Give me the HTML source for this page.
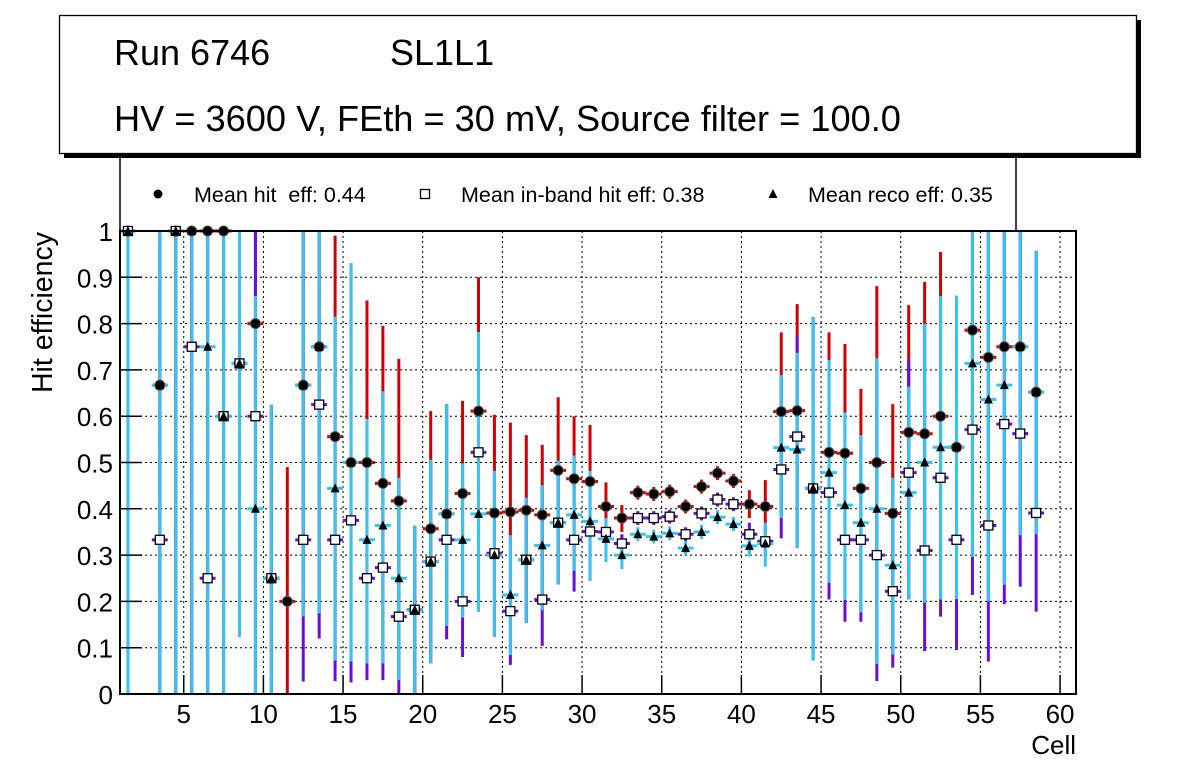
<!DOCTYPE html>
<html><head><meta charset="utf-8"><style>
html,body{margin:0;padding:0;background:#fff;}
svg{display:block;font-family:"Liberation Sans",sans-serif;}
</style></head><body>
<svg id="chart" width="1196" height="772" viewBox="0 0 1196 772">
  <rect x="0" y="0" width="1196" height="772" fill="#fff"/>
  <g id="grid"></g>
  <g id="bars"></g>
  <g id="marks"></g>
  <rect x="120" y="231" width="956" height="463" fill="none" stroke="#000" stroke-width="2"/>
  <g id="axes"></g>
  <text x="1076" y="754" font-size="26" text-anchor="end">Cell</text>
  <text transform="translate(52,232) rotate(-90)" font-size="28.5" text-anchor="end">Hit efficiency</text>
  <g>
    <path d="M120 155 V231 M1016 155 V231" stroke="#000" stroke-width="1.5" fill="none"/>
    <circle cx="158" cy="194" r="4.5" fill="#000"/>
    <text x="194" y="202" font-size="21.5">Mean hit&#160; eff: 0.44</text>
    <rect x="420.5" y="189.5" width="9" height="9" fill="#fff" stroke="#000" stroke-width="1.3"/>
    <text x="461" y="202" font-size="21.5">Mean in-band hit eff: 0.38</text>
    <path d="M773 189 L777.5 198 L768.5 198 Z" fill="#000"/>
    <text x="808" y="202" font-size="21.5">Mean reco eff: 0.35</text>
  </g>
  <g>
    <rect x="64" y="20" width="1077" height="138" fill="#000"/>
    <rect x="59.5" y="15.5" width="1077" height="138" fill="#fff" stroke="#000" stroke-width="1.3"/>
    <text x="114" y="65" font-size="36">Run 6746</text>
    <text x="390" y="65" font-size="36">SL1L1</text>
    <text x="114" y="131" font-size="36.2">HV = 3600 V, FEth = 30 mV, Source filter = 100.0</text>
  </g>
</svg>
<script>
const cells = [1,3,4,5,6,7,8,9,10,11,12,13,14,15,16,17,18,19,20,21,22,23,24,25,26,27,28,29,30,31,32,33,34,35,36,37,38,39,40,41,42,43,44,45,46,47,48,49,50,51,52,53,54,55,56,57,58];
const hitEff = [1,.667,1,1,1,1,.714,.8,.25,.2,.667,.75,.556,.5,.5,.455,.417,.182,.357,.389,.433,.611,.391,.393,.397,.387,.483,.465,.459,.405,.38,.435,.432,.437,.405,.448,.477,.46,.41,.405,.61,.612,.444,.522,.52,.444,.5,.39,.565,.562,.6,.533,.786,.727,.75,.75,.652];
const hitHi = [1,1,1,1,1,1,1,1,.625,.49,1,1,.99,.93,.85,.795,.724,.364,.611,.626,.633,.9,.603,.586,.559,.538,.641,.6,.581,.457,.408,.45,.447,.452,.42,.463,.492,.475,.44,.462,.781,.842,.814,.781,.756,.659,.881,.626,.84,.89,.955,.86,1,1,1,1,.957];
const hitLo = [0,0,0,0,0,0,.123,0,0,0,.17,.17,.07,.07,.066,.066,.03,0,.066,.147,.165,.178,.124,.343,.154,.181,.237,.266,.245,.36,.35,.42,.417,.422,.39,.433,.462,.445,.38,.35,.38,.316,.073,.24,.203,.176,.065,.085,.204,.197,.204,.205,.296,.2,.236,.343,.345];
const bandEff = [1,.333,1,.75,.25,.6,.714,.6,.25,null,.333,.625,.333,.375,.25,.273,.167,.182,.286,.333,.2,.522,.304,.179,.29,.204,.37,.333,.351,.35,.325,.38,.38,.383,.345,.39,.42,.41,.345,.33,.485,.556,.444,.435,.333,.333,.3,.222,.478,.31,.467,.333,.571,.364,.583,.5625,.391];
const bandHi = [1,1,1,1,1,1,1,1,.625,null,1,1,.815,.93,.594,.654,.467,.364,.506,.626,.498,.782,.482,.343,.424,.451,.504,.515,.482,.38,.345,.395,.395,.398,.36,.405,.435,.425,.37,.36,.689,.772,.814,.721,.608,.559,.726,.467,.721,.8,.86,.86,1,1,1,1,.957];
const bandLo = [0,0,0,0,0,0,.123,0,0,null,.027,.12,.028,.025,.03,.03,0,0,.066,.118,.08,.178,.124,.063,.154,.104,.237,.221,.245,.3,.29,.365,.365,.368,.33,.375,.405,.395,.3,.3,.336,.316,.073,.204,.156,.156,.028,.057,.204,.093,.167,.095,.214,.07,.194,.232,.178];
const recoEff = [1,.667,1,1,.75,.6,.714,.4,.25,null,.667,.75,.444,.5,.333,.364,.25,.182,.286,.389,.333,.389,.3,.214,.29,.321,.37,.387,.373,.335,.3,.345,.34,.347,.315,.35,.382,.367,.32,.325,.532,.528,.444,.478,.408,.37,.4,.278,.435,.5,.533,.533,.714,.636,.667,.75,.652];
const recoHi = [1,1,1,1,1,1,1,.86,.625,null,1,1,.815,.93,.594,.654,.467,.364,.506,.626,.498,.782,.482,.343,.424,.451,.504,.515,.482,.38,.33,.36,.355,.362,.33,.365,.397,.382,.34,.37,.689,.737,.814,.721,.608,.559,.726,.467,.664,.8,.86,.86,1,1,1,1,.957];
const recoLo = [0,0,0,0,0,0,.123,0,0,null,.168,.174,.072,.07,.066,.066,.03,0,.066,.147,.165,.178,.124,.084,.154,.181,.237,.266,.245,.285,.27,.33,.325,.332,.3,.335,.367,.352,.297,.275,.38,.316,.073,.24,.203,.176,.065,.085,.204,.197,.204,.205,.296,.2,.236,.343,.345];
const xTicks = [5,10,15,20,25,30,35,40,45,50,55,60];
const yTicks = [0,0.1,0.2,0.3,0.4,0.5,0.6,0.7,0.8,0.9,1];
const yTickLabels = ["0","0.1","0.2","0.3","0.4","0.5","0.6","0.7","0.8","0.9","1"];

const X0=120, X1=1076, Y0=694, Y1=231, XMIN=1, XMAX=61;
const sx = v => X0 + (v-XMIN)/(XMAX-XMIN)*(X1-X0);
const sy = v => Y0 - v*(Y0-Y1);
const NS="http://www.w3.org/2000/svg";
function mk(tag, attrs, parent){const e=document.createElementNS(NS,tag);for(const k in attrs)e.setAttribute(k,attrs[k]);parent.appendChild(e);return e;}
const grid=document.getElementById('grid'), axes=document.getElementById('axes'), bars=document.getElementById('bars'), marks=document.getElementById('marks');

yTicks.forEach((t,i)=>{
  if(t>0 && t<1){const g=mk('line',{x1:X0,x2:X1,y1:sy(t),y2:sy(t),stroke:'#000','stroke-width':1,'stroke-dasharray':'2,3'},grid);
  
  }
  const tk=mk('line',{x1:X0,x2:X0+22,y1:sy(t),y2:sy(t),stroke:'#000','stroke-width':1.5},axes);
  
  
  const lb=mk('text',{x:113,y:sy(t)+10,'font-size':26,'text-anchor':'end'},axes);
  lb.textContent=yTickLabels[i];
  
  
});
xTicks.forEach(t=>{
  const g=mk('line',{x1:sx(t),x2:sx(t),y1:Y1,y2:Y0,stroke:'#000','stroke-width':1,'stroke-dasharray':'2,3'},grid);
  
  
  const tk=mk('line',{x1:sx(t),x2:sx(t),y1:Y0,y2:Y0-19,stroke:'#000','stroke-width':1.5},axes);
  
  
  const lb=mk('text',{x:sx(t),y:723,'font-size':26,'text-anchor':'middle'},axes);
  lb.textContent=String(t);
  
  
});

function errBars(vals, lo, hi, color, name){
  cells.forEach((c,i)=>{
    if(vals[i]===null) return;
    const cx=sx(c+0.5), y=sy(vals[i]);
    const v=mk('line',{x1:cx,x2:cx,y1:sy(hi[i]),y2:sy(lo[i]),stroke:color,'stroke-width':3},bars);
    
    
    const h=mk('line',{x1:sx(c),x2:sx(c+1),y1:y,y2:y,stroke:color,'stroke-width':3},bars);
    
    
  });
}
errBars(hitEff, hitLo, hitHi, '#d00000', 'hit');
errBars(bandEff, bandLo, bandHi, '#6a0dd8', 'inband');
errBars(recoEff, recoLo, recoHi, '#33c6f4', 'reco');

cells.forEach((c,i)=>{
  const cx=sx(c+0.5);
  if(hitEff[i]!==null){const m=mk('circle',{cx:cx,cy:sy(hitEff[i]),r:5,fill:'#000',stroke:'#555','stroke-width':1},marks);
    
    }
  if(bandEff[i]!==null){const y=sy(bandEff[i]);const m=mk('rect',{x:cx-4.5,y:y-4.5,width:9,height:9,fill:'#fff',stroke:'#000','stroke-width':1.3},marks);
    
    }
  if(recoEff[i]!==null){const y=sy(recoEff[i]);const m=mk('path',{d:`M${cx} ${y-5} L${cx+4.5} ${y+4} L${cx-4.5} ${y+4} Z`,fill:'#000'},marks);
    
    }
});
</script>
</body></html>
